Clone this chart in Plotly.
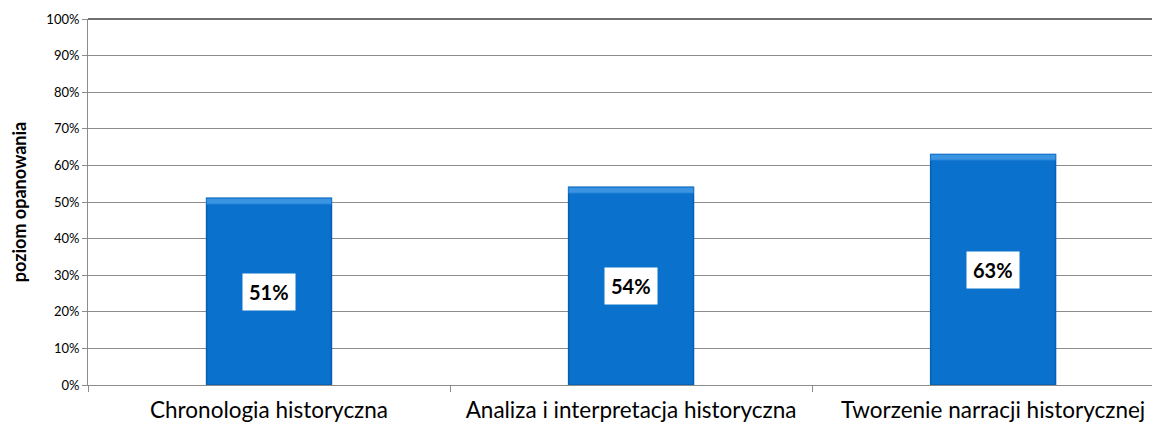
import plotly.graph_objects as go

# dane
kategorie = ["Chronologia historyczna", "Analiza i interpretacja historyczna", "Tworzenie narracji historycznej"]
wartosci = [0.51, 0.54, 0.63]
etykiety = ["51%", "54%", "63%"]
y_ticki = [i / 10 for i in range(11)]
y_etykiety = [f"{i * 10}%" for i in range(11)]

SZER = 0.345

fig = go.Figure()

# glowny slupek
fig.add_trace(go.Bar(
    x=kategorie, y=wartosci, width=SZER,
    marker=dict(color="#0A72CC", line=dict(color="#0560B4", width=1.5)),
    hoverinfo="skip", showlegend=False,
))
# jasniejszy brzeg u gory (efekt fazy)
fig.add_trace(go.Bar(
    x=kategorie, y=[0.016] * len(wartosci), base=[v - 0.016 for v in wartosci], width=SZER,
    marker=dict(color="#3A94E2", line=dict(color="#1A7AD0", width=1)),
    hoverinfo="skip", showlegend=False,
))

# etykiety w bialych ramkach
for k, v, t in zip(kategorie, wartosci, etykiety):
    fig.add_annotation(
        x=k, y=v / 2, text=f"<b>{t}</b>", showarrow=False,
        font=dict(family="Lato, Carlito, sans-serif", size=20, color="black"),
        bgcolor="white", borderpad=6,
    )

# gorna ramka
fig.add_shape(type="line", xref="paper", yref="paper", x0=0, x1=1, y0=1, y1=1,
              line=dict(color="#404040", width=1.5))

# strona ma 8px marginesu body, wiec figura jest mniejsza
fig.update_layout(
    width=1152, height=415,
    margin=dict(l=80, r=0, t=11, b=38),
    paper_bgcolor="white", plot_bgcolor="white",
    barmode="overlay",
    font=dict(family="Lato, Carlito, sans-serif", color="black"),
)
# wykres w oryginale wychodzi poza prawa krawedz - ucinamy zakres osi
fig.update_xaxes(
    automargin=False, range=[-0.5, 2.461],
    showline=True, linecolor="#8C8C8C", linewidth=1,
    ticks="outside", tickson="boundaries", ticklen=6, tickcolor="#8C8C8C",
    tickfont=dict(size=22.5), showgrid=False, ticklabelstandoff=5,
)
fig.update_yaxes(
    automargin=False,
    range=[0, 1], tickvals=y_ticki, ticktext=y_etykiety,
    showline=True, linecolor="#8C8C8C", linewidth=1,
    ticks="outside", ticklen=5, tickcolor="#8C8C8C",
    showgrid=True, gridcolor="#8C8C8C", gridwidth=1,
    tickfont=dict(size=13),
    title=dict(text="<b>poziom opanowania</b>", font=dict(size=18), standoff=19),
    zeroline=False,
)

fig.write_html("out.html")
